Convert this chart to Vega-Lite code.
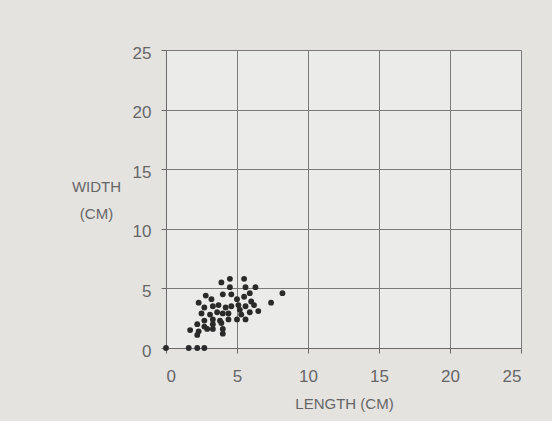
{
  "$schema": "https://vega.github.io/schema/vega-lite/v6.json",
  "autosize": "none",
  "width": 355,
  "height": 298,
  "padding": {"left": 166, "top": 50, "right": 31, "bottom": 73},
  "background": "#e4e3e0",
  "config": {
    "view": {"fill": "#ebebe9", "stroke": null},
    "font": "Liberation Sans",
    "axis": {
      "gridColor": "#7a7a7a",
      "gridOpacity": 1,
      "gridWidth": 1,
      "domainColor": "#6a6a6a",
      "tickColor": "#6a6a6a",
      "labelColor": "#666666",
      "titleColor": "#666666",
      "labelFontSize": 17,
      "titleFontSize": 15,
      "titleFontWeight": "normal",
      "labelFont": "Liberation Sans",
      "titleFont": "Liberation Sans"
    }
  },
  "data": {
    "values": [
      {"length": 0, "width": 0}, {"length": 1.6, "width": 0}, {"length": 2.2, "width": 0}, {"length": 2.7, "width": 0},
      {"length": 4.5, "width": 5.8}, {"length": 5.5, "width": 5.8}, {"length": 3.9, "width": 5.5}, {"length": 4.5, "width": 5.1},
      {"length": 5.6, "width": 5.1}, {"length": 6.3, "width": 5.1}, {"length": 8.2, "width": 4.6}, {"length": 5.9, "width": 4.6},
      {"length": 4.0, "width": 4.5}, {"length": 4.6, "width": 4.5}, {"length": 2.8, "width": 4.4}, {"length": 3.2, "width": 4.1},
      {"length": 5.0, "width": 4.1}, {"length": 5.5, "width": 4.3}, {"length": 6.0, "width": 3.9}, {"length": 2.3, "width": 3.8},
      {"length": 7.4, "width": 3.8}, {"length": 2.7, "width": 3.4}, {"length": 3.3, "width": 3.5}, {"length": 3.7, "width": 3.6},
      {"length": 4.2, "width": 3.4}, {"length": 4.6, "width": 3.5}, {"length": 5.1, "width": 3.6}, {"length": 5.6, "width": 3.5},
      {"length": 6.2, "width": 3.6}, {"length": 2.5, "width": 2.9}, {"length": 3.1, "width": 2.8}, {"length": 3.6, "width": 3.0},
      {"length": 4.0, "width": 2.9}, {"length": 4.4, "width": 2.9}, {"length": 5.2, "width": 3.2}, {"length": 5.3, "width": 2.8},
      {"length": 5.9, "width": 3.0}, {"length": 6.5, "width": 3.1}, {"length": 2.7, "width": 2.3}, {"length": 3.3, "width": 2.4},
      {"length": 3.8, "width": 2.3}, {"length": 4.4, "width": 2.4}, {"length": 5.0, "width": 2.4}, {"length": 5.6, "width": 2.4},
      {"length": 2.2, "width": 2.0}, {"length": 2.7, "width": 1.8}, {"length": 3.3, "width": 2.0}, {"length": 3.9, "width": 2.1},
      {"length": 1.7, "width": 1.5}, {"length": 2.3, "width": 1.4}, {"length": 2.9, "width": 1.6}, {"length": 3.3, "width": 1.6},
      {"length": 4.0, "width": 1.6}, {"length": 2.2, "width": 1.1}, {"length": 4.0, "width": 1.2}
    ]
  },
  "mark": {"type": "point", "filled": true, "shape": "circle", "size": 34, "color": "#2a2a2a", "opacity": 1},
  "encoding": {
    "x": {
      "field": "length",
      "type": "quantitative",
      "scale": {"domain": [0, 25], "nice": false, "zero": true},
      "axis": {
        "values": [0, 5, 10, 15, 20, 25],
        "grid": true,
        "tickSize": 5,
        "labelPadding": 15,
        "title": "LENGTH (CM)",
        "titleX": 178,
        "titleY": 55,
        "titleAlign": "center",
        "titleBaseline": "middle"
      }
    },
    "y": {
      "field": "width",
      "type": "quantitative",
      "scale": {"domain": [0, 25], "nice": false, "zero": true},
      "axis": {
        "values": [0, 5, 10, 15, 20, 25],
        "grid": true,
        "tickSize": 5,
        "labelPadding": 10,
        "labelOffset": 3,
        "title": ["WIDTH", "(CM)"],
        "titleAngle": 0,
        "titleX": -70,
        "titleY": 136,
        "titleAlign": "center",
        "titleBaseline": "middle",
        "titleLineHeight": 27
      }
    }
  }
}
